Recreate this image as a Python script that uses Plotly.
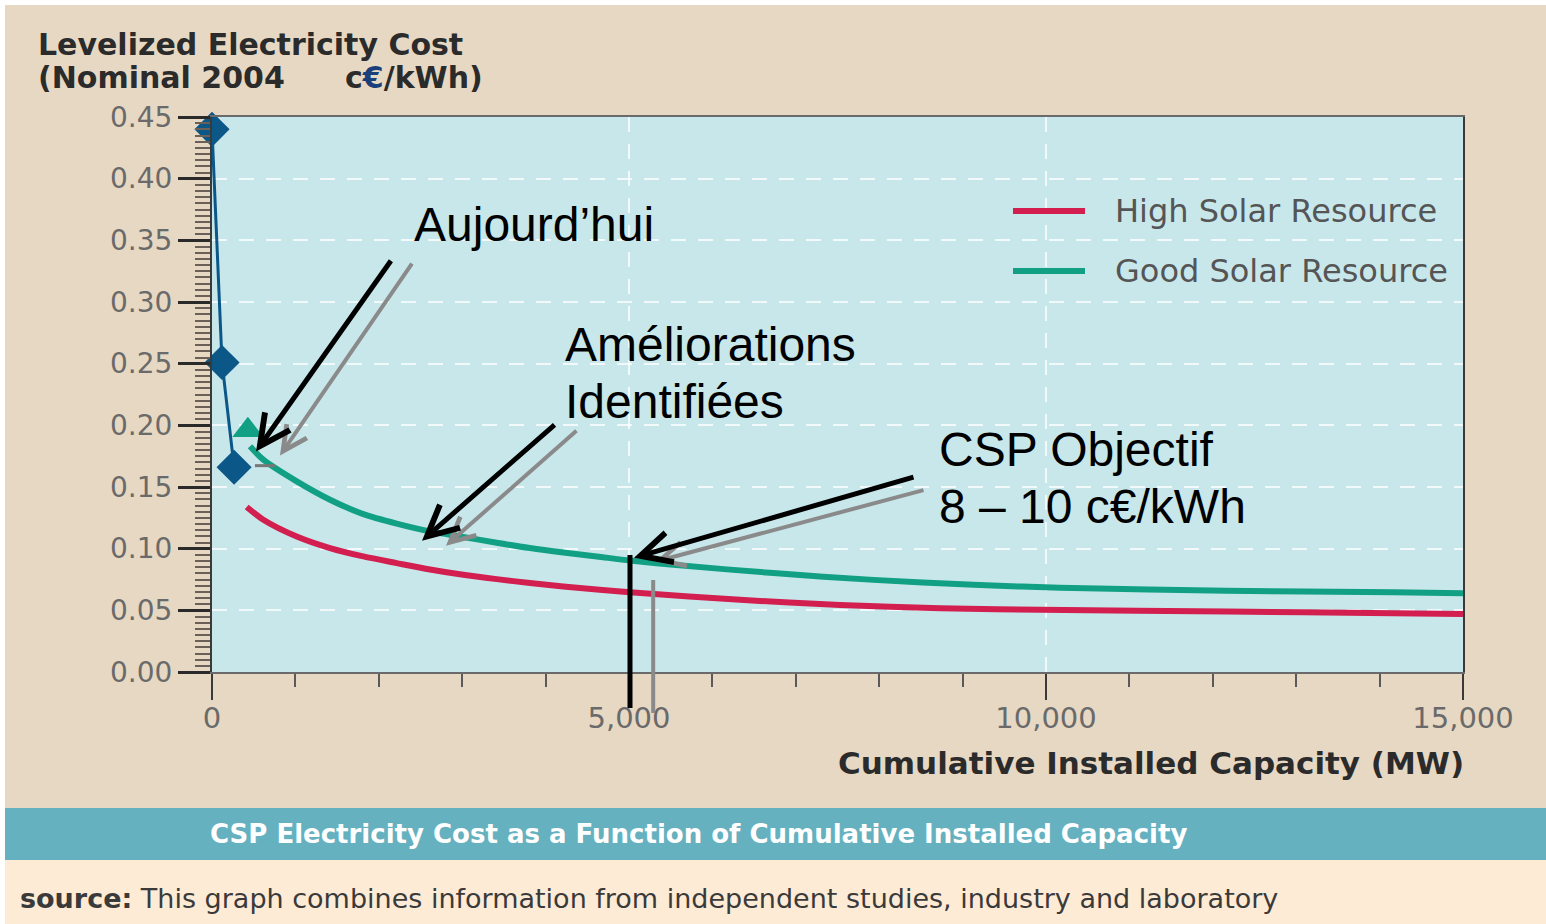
import plotly.graph_objects as go

# ---------------- data ----------------
blue_x = [0, 120, 265]
blue_y = [0.44, 0.251, 0.166]

tri_x = [430]
tri_y = [0.196]

green_x = [456, 615, 1016, 1415, 1814, 2214, 2614, 3013, 3414, 3813, 4212, 4613, 5012,
           5531, 6731, 7931, 9131, 10168, 12168, 14168, 15000]
green_y = [0.183, 0.1722, 0.1546, 0.1397, 0.1280, 0.1203, 0.1140, 0.1095, 0.1048, 0.1005, 0.0969, 0.0937, 0.0904,
           0.0869, 0.0802, 0.0747, 0.0707, 0.0683, 0.0658, 0.0647, 0.0639]

red_x = [416, 615, 1016, 1415, 1814, 2214, 2614, 3013, 3414, 3813, 4212, 4613, 5012,
         6331, 7531, 8731, 9931, 12168, 14168, 15000]
red_y = [0.1338, 0.1235, 0.1099, 0.1005, 0.0937, 0.0883, 0.0831, 0.0788, 0.0753, 0.0721, 0.0693, 0.0668, 0.0647,
         0.0585, 0.0544, 0.0517, 0.0504, 0.0490, 0.0477, 0.0471]

legend_labels = ["High Solar Resource", "Good Solar Resource"]
x_tickvals = [0, 5000, 10000, 15000]
x_ticktext = ["0", "5,000", "10,000", "15,000"]
y_tickvals = [0.00, 0.05, 0.10, 0.15, 0.20, 0.25, 0.30, 0.35, 0.40, 0.45]
y_ticktext = ["0.00", "0.05", "0.10", "0.15", "0.20", "0.25", "0.30", "0.35", "0.40", "0.45"]

# ---------------- layout geometry ----------------
W, H = 1546, 924
L, R, T, B = 212, 1463, 117, 672   # plot area in pixels


def px(xp):
    return (xp - L) / (R - L)


def py(yp):
    return (B - yp) / (B - T)


RED = "#d21f50"
GREEN = "#11a084"
BLUE = "#0b5788"
BEIGE = "#e7d8c3"
PLOTBG = "#c8e7eb"

fig = go.Figure()

fig.add_trace(go.Scatter(x=red_x, y=red_y, mode="lines", line=dict(color=RED, width=6, shape="spline", smoothing=0.8),
                         name=legend_labels[0], showlegend=False, cliponaxis=False))
fig.add_trace(go.Scatter(x=green_x, y=green_y, mode="lines", line=dict(color=GREEN, width=6, shape="spline", smoothing=0.8),
                         name=legend_labels[1], showlegend=False, cliponaxis=False))
fig.add_trace(go.Scatter(x=blue_x, y=blue_y, mode="lines+markers",
                         line=dict(color=BLUE, width=3),
                         marker=dict(symbol="diamond", size=27, color=BLUE),
                         showlegend=False, cliponaxis=False))
fig.add_trace(go.Scatter(x=tri_x, y=tri_y, mode="markers",
                         marker=dict(symbol="triangle-up", size=27, color=GREEN),
                         showlegend=False, cliponaxis=False))

shapes = []
annotations = []

# banner and bottom strip
shapes.append(dict(type="rect", xref="paper", yref="paper", x0=px(5), x1=px(1546), y0=py(860), y1=py(808),
                   fillcolor="#65b1bf", line=dict(width=0), layer="below"))
shapes.append(dict(type="rect", xref="paper", yref="paper", x0=px(5), x1=px(1546), y0=py(924), y1=py(860),
                   fillcolor="#fdebd6", line=dict(width=0), layer="below"))
# thin white edges
shapes.append(dict(type="rect", xref="paper", yref="paper", x0=px(0), x1=px(5), y0=py(924), y1=py(0),
                   fillcolor="white", line=dict(width=0), layer="below"))
shapes.append(dict(type="rect", xref="paper", yref="paper", x0=px(0), x1=px(1546), y0=py(5), y1=py(0),
                   fillcolor="white", line=dict(width=0), layer="below"))

# manual legend
for lab, col, yy in [(legend_labels[0], RED, 211), (legend_labels[1], GREEN, 271)]:
    shapes.append(dict(type="line", xref="paper", yref="paper", x0=px(1013), x1=px(1085), y0=py(yy), y1=py(yy),
                       line=dict(color=col, width=6)))
    annotations.append(dict(xref="paper", yref="paper", x=px(1113), y=py(yy), text=lab, showarrow=False,
                            xanchor="left", yanchor="middle",
                            font=dict(family="DejaVu Sans", size=32, color="#555555")))

# vertical marker lines under 5,000
shapes.append(dict(type="line", xref="x", yref="paper", x0=5012, x1=5012, y0=py(708), y1=py(555),
                   line=dict(color="black", width=5)))
shapes.append(dict(type="line", xref="x", yref="paper", x0=5290, x1=5290, y0=py(713), y1=py(580),
                   line=dict(color="#8a8a8a", width=4)))
shapes.append(dict(type="line", xref="x", yref="y", x0=515, x1=755, y0=0.1673, y1=0.1673,
                   line=dict(color="#777777", width=3)))

# arrows (gray shadow first, then black)
arrows = [
    # (tail_x, tail_y, head_x, head_y, color, width)
    (2410, 0.3323, 815, 0.1755, "#8a8a8a", 4),
    (2158, 0.3347, 528, 0.1787, "black", 5),
    (4388, 0.1966, 2806, 0.1024, "#8a8a8a", 4),
    (4125, 0.2015, 2518, 0.1064, "black", 5),
    (8549, 0.1478, 5312, 0.0894, "#8a8a8a", 4),
    (8429, 0.1584, 5060, 0.0926, "black", 5),
]
for tx, ty, hx, hy, col, wd in arrows:
    annotations.append(dict(x=hx, y=hy, ax=tx, ay=ty, xref="x", yref="y", axref="x", ayref="y",
                            text="", showarrow=True, arrowhead=5, arrowsize=1.2, arrowwidth=wd,
                            arrowcolor=col))

# French labels (one annotation per line)
fr_font = dict(family="Liberation Sans, Arial", size=48, color="black")
fr_lines = [
    ("Aujourd’hui", 2398, 0.3631),
    ("Améliorations", 4209, 0.2657),
    ("Identifiées", 4209, 0.2194),
    ("CSP Objectif", 8693, 0.1803),
    ("8 – 10 c€/kWh", 8693, 0.1340),
]
for txt, xx, yy in fr_lines:
    annotations.append(dict(x=xx, y=yy, xref="x", yref="y", text=txt, showarrow=False,
                            xanchor="left", yanchor="middle", font=fr_font))

# y-axis title (top-left)
title_font = dict(family="DejaVu Sans", size=30, color="#2b2b2b")
annotations.append(dict(xref="paper", yref="paper", x=px(36), y=py(44), xanchor="left", yanchor="middle",
                        showarrow=False, text="<b>Levelized Electricity Cost</b>", font=title_font))
annotations.append(dict(xref="paper", yref="paper", x=px(36), y=py(77), xanchor="left", yanchor="middle",
                        showarrow=False, text="<b>(Nominal 2004</b>", font=title_font))
annotations.append(dict(xref="paper", yref="paper", x=px(343), y=py(77), xanchor="left", yanchor="middle",
                        showarrow=False, text="<b>c<span style='color:#1a3f7a'>€</span>/kWh)</b>",
                        font=title_font))

# x-axis title
annotations.append(dict(xref="paper", yref="paper", x=px(1466), y=py(763), xanchor="right", yanchor="middle",
                        showarrow=False, text="<b>Cumulative Installed Capacity (MW)</b>",
                        font=dict(family="DejaVu Sans", size=31, color="#2b2b2b")))

# banner caption
annotations.append(dict(xref="paper", yref="paper", x=px(698), y=py(834), xanchor="center", yanchor="middle",
                        showarrow=False,
                        text="<b>CSP Electricity Cost as a Function of Cumulative Installed Capacity</b>",
                        font=dict(family="DejaVu Sans", size=26, color="white")))

# source line
annotations.append(dict(xref="paper", yref="paper", x=px(18), y=py(898), xanchor="left", yanchor="middle",
                        showarrow=False,
                        text="<b>source:</b> This graph combines information from independent studies, "
                             "industry and laboratory",
                        font=dict(family="DejaVu Sans", size=27, color="#3a3a3a")))

fig.update_layout(
    width=W, height=H,
    margin=dict(l=L, r=W - R, t=T, b=H - B, pad=0),
    paper_bgcolor=BEIGE,
    plot_bgcolor=PLOTBG,
    showlegend=False,
    shapes=shapes,
    annotations=annotations,
)

fig.update_xaxes(
    range=[0, 15000],
    tickmode="array", tickvals=x_tickvals, ticktext=x_ticktext,
    ticks="outside", ticklen=26, tickwidth=2, tickcolor="#3a3a3a",
    minor=dict(dtick=1000, ticks="outside", ticklen=13, tickwidth=2, tickcolor="#5a5a5a", showgrid=False),
    tickfont=dict(family="DejaVu Sans", size=29, color="#6a6a6a"),
    ticklabelstandoff=-7,
    showline=True, linecolor="#6a6a6a", linewidth=2, mirror=True,
    showgrid=True, gridcolor="rgba(255,255,255,0.75)", gridwidth=2, griddash="15px,12px",
    zeroline=False,
)
fig.update_yaxes(
    range=[0, 0.45],
    tickmode="array", tickvals=y_tickvals, ticktext=y_ticktext,
    ticks="outside", ticklen=32, tickwidth=3, tickcolor="#2a2a2a",
    minor=dict(dtick=0.005, ticks="outside", ticklen=15, tickwidth=2, tickcolor="#6b6058", showgrid=False),
    tickfont=dict(family="DejaVu Sans", size=28, color="#6a6a6a"),
    showline=True, linecolor="#3a3a3a", linewidth=2, mirror=True,
    showgrid=True, gridcolor="rgba(255,255,255,0.75)", gridwidth=2, griddash="15px,12px",
    zeroline=False,
)

fig.write_html("out.html", config={"displayModeBar": False},
               post_script="document.body.style.margin='0px';document.body.style.overflow='hidden';")
